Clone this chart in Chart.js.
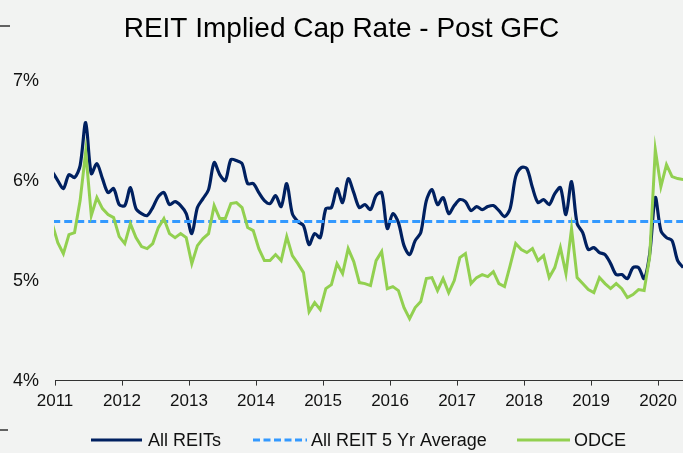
<!DOCTYPE html>
<html>
<head>
<meta charset="utf-8">
<script src="https://cdn.jsdelivr.net/npm/chart.js@4.4.1/dist/chart.umd.min.js"></script>
<style>
html,body{margin:0;padding:0;background:#f2f3f2;overflow:hidden}
#wrap{width:683px;height:453px;position:relative}
canvas{display:block}
</style>
</head>
<body>
<div id="wrap"><canvas id="c" width="683" height="453"></canvas></div>
<script>
// ---- data ----
const chartTitle = 'REIT Implied Cap Rate - Post GFC';
const seriesNames = ['All REITs', 'All REIT 5 Yr Average', 'ODCE'];
const firstMonth = { year: 2010, month: 12 };   // monthly data, Dec 2010 .. May 2020
const yearTicks = [2011, 2012, 2013, 2014, 2015, 2016, 2017, 2018, 2019, 2020];
const yTicks = [4, 5, 6, 7];

const allReits = [
  6.09,
  6.00, 5.92, 6.06, 6.03, 6.15, 6.58, 6.07, 6.17, 6.02, 5.88, 5.92, 5.76,
  5.75, 5.93, 5.72, 5.67, 5.65, 5.73, 5.84, 5.88, 5.76, 5.79, 5.75, 5.67,
  5.47, 5.73, 5.82, 5.91, 6.18, 6.06, 6.00, 6.21, 6.20, 6.17, 5.97, 5.97,
  5.88, 5.80, 5.77, 5.85, 5.74, 5.97, 5.67, 5.59, 5.55, 5.36, 5.47, 5.43,
  5.72, 5.73, 5.92, 5.78, 6.02, 5.88, 5.73, 5.76, 5.71, 5.85, 5.88, 5.52,
  5.67, 5.58, 5.35, 5.26, 5.40, 5.48, 5.80, 5.91, 5.76, 5.83, 5.67, 5.75,
  5.81, 5.79, 5.70, 5.74, 5.71, 5.74, 5.75, 5.70, 5.64, 5.72, 6.04, 6.13,
  6.12, 5.93, 5.78, 5.81, 5.76, 5.87, 5.93, 5.66, 5.99, 5.57, 5.48, 5.31,
  5.33, 5.28, 5.26, 5.17, 5.06, 5.06, 5.02, 5.13, 5.13, 5.02, 5.27, 5.83,
  5.50, 5.43, 5.40, 5.20, 5.13
];

const odce = [
  5.57,
  5.38, 5.27, 5.46, 5.48, 5.80, 6.29, 5.65, 5.83, 5.72, 5.66, 5.63, 5.44,
  5.37, 5.57, 5.43, 5.34, 5.32, 5.37, 5.53, 5.62, 5.47, 5.43, 5.47, 5.43,
  5.17, 5.35, 5.42, 5.47, 5.75, 5.62, 5.62, 5.77, 5.78, 5.73, 5.53, 5.50,
  5.32, 5.20, 5.20, 5.26, 5.20, 5.44, 5.25, 5.17, 5.08, 4.69, 4.78, 4.71,
  4.92, 4.96, 5.17, 5.07, 5.32, 5.19, 4.98, 4.97, 4.95, 5.20, 5.29, 4.92,
  4.94, 4.90, 4.73, 4.62, 4.73, 4.79, 5.02, 5.03, 4.90, 5.02, 4.88, 5.00,
  5.23, 5.27, 4.97, 5.03, 5.06, 5.04, 5.09, 4.97, 4.94, 5.15, 5.37, 5.31,
  5.28, 5.32, 5.20, 5.25, 5.03, 5.13, 5.33, 5.07, 5.52, 5.03, 4.97, 4.91,
  4.88, 5.03, 4.97, 4.92, 4.97, 4.92, 4.83, 4.86, 4.91, 4.90, 5.24, 6.31,
  5.94, 6.16, 6.04, 6.02, 6.01
];

const avg5yr = 5.59;

// ---- build chart ----
const COLORS = { reits: '#002060', avg: '#3399ff', odce: '#92d050' };
const FONT = "'Liberation Sans', Arial, sans-serif";

// each monthly value sits mid-month on a decimal-year axis
const monthPos = i => firstMonth.year + (firstMonth.month - 1 + i + 0.5) / 12;
const toPoints = arr => arr.map((v, i) => ({ x: monthPos(i), y: v }));
const xMin = yearTicks[0];
const xMax = monthPos(allReits.length - 1) - 0.01;

const legendPlugin = {
  id: 'customLegend',
  afterDraw(chart) {
    const ctx = chart.ctx;
    const y = 440;
    const items = [
      { x0: 91, x1: 142, tx: 148, color: COLORS.reits, dash: [], text: seriesNames[0] },
      { x0: 253, x1: 307, tx: 311, color: COLORS.avg, dash: [7, 3.5], text: seriesNames[1] },
      { x0: 517, x1: 570, tx: 574, color: COLORS.odce, dash: [], text: seriesNames[2] }
    ];
    ctx.save();
    ctx.font = '18px ' + FONT;
    ctx.textBaseline = 'middle';
    ctx.textAlign = 'left';
    items.forEach(it => {
      ctx.beginPath();
      ctx.setLineDash(it.dash);
      ctx.strokeStyle = it.color;
      ctx.lineWidth = 3;
      ctx.moveTo(it.x0, y);
      ctx.lineTo(it.x1, y);
      ctx.stroke();
      ctx.setLineDash([]);
      ctx.fillStyle = '#111';
      ctx.fillText(it.text, it.tx, y + 1);
    });
    // small frame marks at the left edge
    ctx.strokeStyle = '#333';
    ctx.lineWidth = 1.5;
    ctx.beginPath();
    ctx.moveTo(0, 26); ctx.lineTo(10, 26);
    ctx.moveTo(0, 430); ctx.lineTo(8, 430);
    ctx.stroke();
    ctx.restore();
  }
};

new Chart(document.getElementById('c'), {
  type: 'line',
  data: {
    datasets: [
      { label: seriesNames[2], data: toPoints(odce), borderColor: COLORS.odce, borderWidth: 3,
        pointRadius: 0, tension: 0, order: 0, clip: 1 },
      { label: seriesNames[1], data: toPoints(allReits.map(() => avg5yr)), borderColor: COLORS.avg,
        borderWidth: 3, borderDash: [8, 4], pointRadius: 0, tension: 0, order: 1, clip: 1 },
      { label: seriesNames[0], data: toPoints(allReits), borderColor: COLORS.reits, borderWidth: 3.2,
        pointRadius: 0, tension: 0.3, order: 2, clip: 1 }
    ]
  },
  options: {
    responsive: false,
    animation: false,
    devicePixelRatio: 1,
    layout: { padding: { left: 0, right: 0, top: 0, bottom: 35 } },
    plugins: {
      legend: { display: false },
      tooltip: { enabled: false },
      title: {
        display: true, text: chartTitle, color: '#000',
        font: { family: FONT, size: 28, weight: 'normal' },
        padding: { top: 12, bottom: 35 }
      }
    },
    scales: {
      x: {
        type: 'linear', position: 'bottom', min: xMin, max: xMax,
        afterBuildTicks: s => { s.ticks = yearTicks.map(v => ({ value: v })); },
        grid: { display: true, drawOnChartArea: false, drawTicks: true, tickLength: 5, color: '#333', lineWidth: 1 },
        border: { display: true, color: '#333', width: 1 },
        ticks: { autoSkip: false, maxRotation: 0, padding: 6, color: '#111',
          font: { family: FONT, size: 17 }, callback: v => String(v) }
      },
      y: {
        min: yTicks[0], max: yTicks[yTicks.length - 1],
        afterBuildTicks: s => { s.ticks = yTicks.map(v => ({ value: v })); },
        afterFit: s => { s.width = 55; },
        grid: { display: false, drawTicks: false },
        border: { display: false },
        ticks: { padding: 16, color: '#111', font: { family: FONT, size: 18 }, callback: v => v + '%' }
      }
    }
  },
  plugins: [legendPlugin]
});
</script>
</body>
</html>
